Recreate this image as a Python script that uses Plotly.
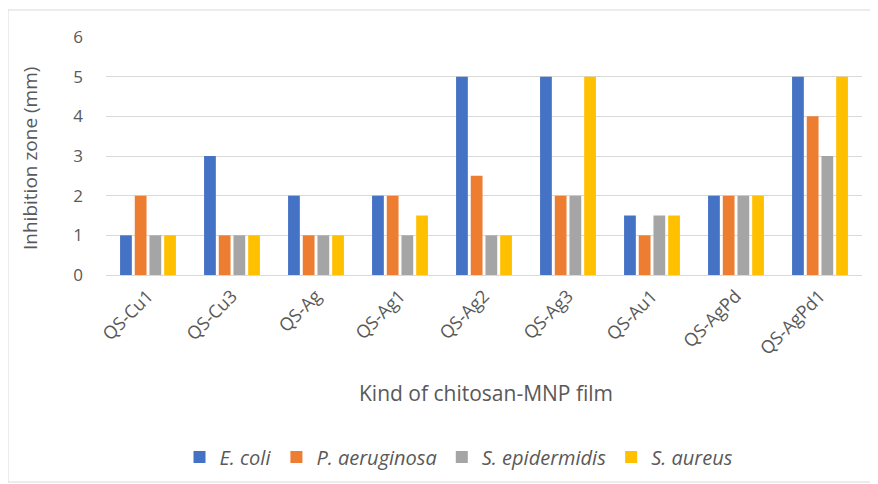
import plotly.graph_objects as go

categories = ["QS-Cu1", "QS-Cu3", "QS-Ag", "QS-Ag1", "QS-Ag2", "QS-Ag3", "QS-Au1", "QS-AgPd", "QS-AgPd1"]
e_coli = [1, 3, 2, 2, 5, 5, 1.5, 2, 5]
p_aeruginosa = [2, 1, 1, 2, 2.5, 2, 1, 2, 4]
s_epidermidis = [1, 1, 1, 1, 1, 2, 1.5, 2, 3]
s_aureus = [1, 1, 1, 1.5, 1, 5, 1.5, 2, 5]
series_names = ["E. coli", "P. aeruginosa", "S. epidermidis", "S. aureus"]
colors = ["#4472C4", "#ED7D31", "#A5A5A5", "#FFC000"]

FONT = "Open Sans"
TXT = "#595959"

fig = go.Figure()
for name, vals, col in zip(series_names, [e_coli, p_aeruginosa, s_epidermidis, s_aureus], colors):
    fig.add_trace(go.Bar(name=name, x=categories, y=vals, marker=dict(color=col, line=dict(width=0))))

# page body has an 8px margin; work in screen coordinates and subtract it
OFF = 8
W, H = 878 - OFF, 484 - OFF
L, R, T, B = 106 - OFF, 16, 37 - OFF, 484 - 275
pw = W - L - R
ph = H - T - B

def px(x):
    return (x - OFF - L) / pw

def py(y):
    return (H - B - (y - OFF)) / ph

fig.update_layout(
    width=W, height=H,
    margin=dict(l=L, r=R, t=T, b=B, autoexpand=False),
    paper_bgcolor="white", plot_bgcolor="white",
    barmode="group", bargap=0.3, bargroupgap=0.2,
    font=dict(family=FONT, color=TXT),
    showlegend=True,
    legend=dict(orientation="h", x=px(459), xanchor="center", y=py(457), yanchor="middle",
                font=dict(size=20, family=FONT, color=TXT, style="italic"),
                itemwidth=30, traceorder="normal", tracegroupgap=0),
    xaxis=dict(tickangle=-45, tickfont=dict(size=18, family=FONT, color=TXT),
               showline=False, showgrid=False, ticks="", automargin=False,
               ticklabelstandoff=6),
    yaxis=dict(range=[0, 6], dtick=1, tickfont=dict(size=17, family=FONT, color=TXT),
               showgrid=True, gridcolor="#D9D9D9", gridwidth=1, zeroline=True,
               zerolinecolor="#D9D9D9", zerolinewidth=1, showline=False, ticks="",
               ticklabelstandoff=22, automargin=False),
    annotations=[
        dict(text="Kind of chitosan-MNP film", xref="paper", yref="paper", x=px(486), y=py(393),
             showarrow=False, font=dict(size=21, family=FONT, color=TXT), xanchor="center", yanchor="middle"),
        dict(text="Inhibition zone (mm)", xref="paper", yref="paper", x=px(30), y=py(159),
             showarrow=False, textangle=-90, font=dict(size=19, family=FONT, color=TXT),
             xanchor="center", yanchor="middle"),
    ],
    shapes=[
        dict(type="rect", xref="paper", yref="paper", x0=px(8), x1=px(900), y0=py(482), y1=py(10),
             line=dict(color="#D9D9D9", width=1), fillcolor="rgba(0,0,0,0)", layer="below"),
    ],
)

fig.write_html("out.html")
